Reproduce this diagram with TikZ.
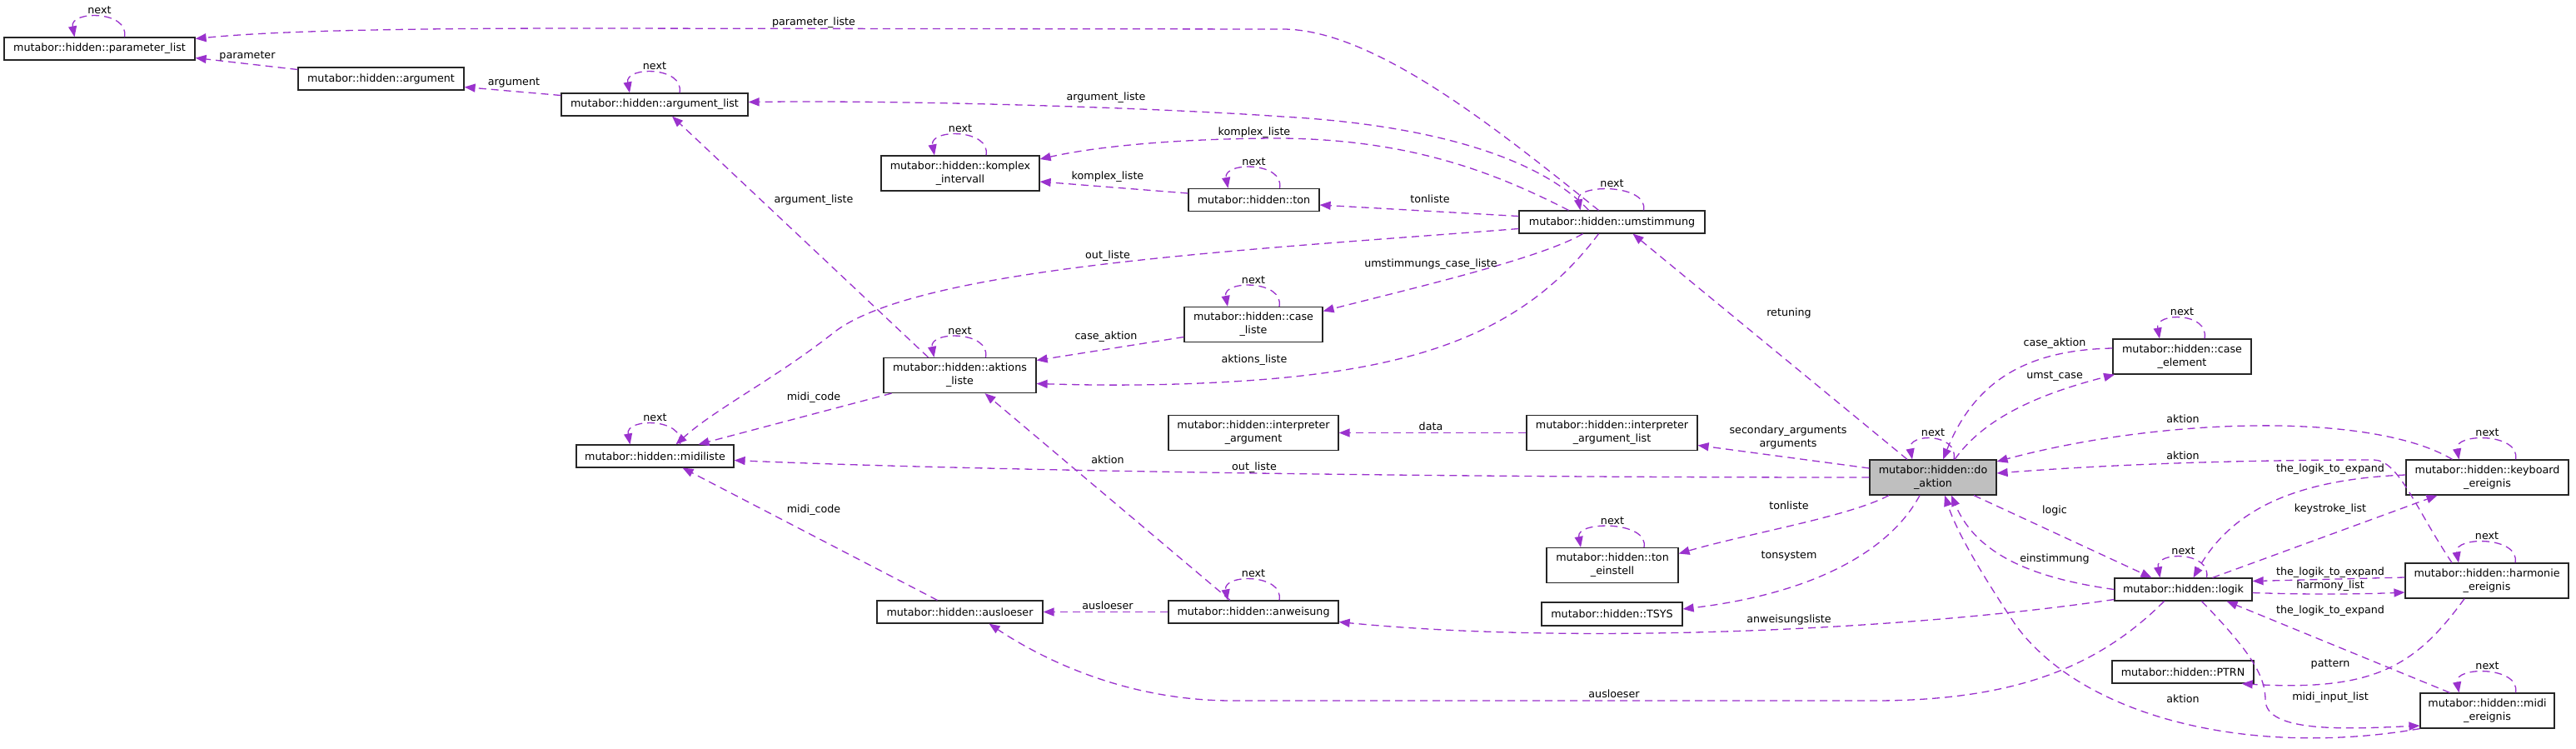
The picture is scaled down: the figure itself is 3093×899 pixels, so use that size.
\documentclass[tikz,border=0pt]{standalone}
\usepackage{fontspec}
\setmainfont{DejaVu Sans}
\usetikzlibrary{arrows.meta,calc}
\definecolor{edgecol}{HTML}{9A32CD}
\newcommand{\nextloop}[2]{%
  \draw[edge] ($(#1.north)+(#2,0)$) .. controls ($(#1.north)+(#2+6,-32)$) and ($(#1.north)+(-#2-6,-32)$) .. ($(#1.north)+(-#2,0)$);
  \node[lbl] at ($(#1.north)+(0,-32)$) {next};}
\begin{document}
\begin{tikzpicture}[x=1pt,y=-1pt,
  box/.style={draw=black!85, line width=1.2pt, fill=white, inner sep=0pt, align=center, font=\fontsize{12.7}{16}\selectfont, minimum height=27pt},
  box2/.style={box, minimum height=42pt},
  focus/.style={box2, fill=gray!50},
  edge/.style={draw=edgecol, line width=1.3pt, dash pattern=on 9pt off 6pt, -{Triangle[length=13pt,width=10pt]}},
  lbl/.style={inner sep=0pt, font=\fontsize{12.7}{16}\selectfont, align=center}]
\useasboundingbox (0,0) rectangle (3093,899);
\fill[white] (0,0) rectangle (3093,899);

% nodes
\node[box, minimum width=229pt] (pl) at (119.5,58.5) {mutabor::hidden::parameter\_list};
\node[box, minimum width=199pt] (arg) at (457.5,94.5) {mutabor::hidden::argument};
\node[box, minimum width=224pt] (al) at (786,125.5) {mutabor::hidden::argument\_list};
\node[box2, minimum width=190pt] (ki) at (1153,208) {mutabor::hidden::komplex\\\_intervall};
\node[box, minimum width=157pt] (ton) at (1505.5,240) {mutabor::hidden::ton};
\node[box2, minimum width=166pt] (cl) at (1505,389.5) {mutabor::hidden::case\\\_liste};
\node[box2, minimum width=183pt] (akl) at (1152.5,450.5) {mutabor::hidden::aktions\\\_liste};
\node[box, minimum width=223pt] (um) at (1935.5,266.5) {mutabor::hidden::umstimmung};
\node[box, minimum width=189pt] (ml) at (786.5,547.5) {mutabor::hidden::midiliste};
\node[box2, minimum width=204pt] (ia) at (1505,519.5) {mutabor::hidden::interpreter\\\_argument};
\node[box2, minimum width=205pt] (ial) at (1935.5,519.5) {mutabor::hidden::interpreter\\\_argument\_list};
\node[focus, minimum width=152pt] (do) at (2321,573) {mutabor::hidden::do\\\_aktion};
\node[box2, minimum width=166pt] (ce) at (2620,428) {mutabor::hidden::case\\\_element};
\node[box2, minimum width=195pt] (kb) at (2986.5,573) {mutabor::hidden::keyboard\\\_ereignis};
\node[box2, minimum width=196pt] (he) at (2986,697) {mutabor::hidden::harmonie\\\_ereignis};
\node[box2, minimum width=161pt] (me) at (2986.5,853) {mutabor::hidden::midi\\\_ereignis};
\node[box, minimum width=165pt] (lg) at (2621.5,707.5) {mutabor::hidden::logik};
\node[box, minimum width=170pt] (pt) at (2621,806.5) {mutabor::hidden::PTRN};
\node[box2, minimum width=158pt] (te) at (1936,678.5) {mutabor::hidden::ton\\\_einstell};
\node[box, minimum width=169pt, minimum height=28pt] (ts) at (1935.5,737) {mutabor::hidden::TSYS};
\node[box, minimum width=204pt] (an) at (1505,734.5) {mutabor::hidden::anweisung};
\node[box, minimum width=199pt] (au) at (1152.5,734.5) {mutabor::hidden::ausloeser};

% self loops
\nextloop{pl}{30}
\nextloop{al}{30}
\nextloop{ki}{31}
\nextloop{ton}{31}
\nextloop{cl}{31}
\nextloop{akl}{31}
\nextloop{ml}{30}
\nextloop{um}{38}
\nextloop{do}{25}
\nextloop{ce}{27}
\nextloop{kb}{34}
\nextloop{he}{34}
\nextloop{me}{34}
\nextloop{lg}{28}
\nextloop{te}{38}
\nextloop{an}{31}

% edges
\draw[edge] ($(um.north)+(-16,0)$) .. controls (1800,157) and (1650,35) .. (1540,35) -- (700,34) .. controls (450,34) and (320,38) .. ($(pl.east)+(0,-12)$);
\draw[edge] ($(um.north)+(-28,0)$) .. controls (1850,190) and (1720,150) .. (1540,140) .. controls (1400,130) and (1100,120) .. ($(al.east)+(0,-3)$);
\draw[edge] ($(um.north)+(-52,0)$) .. controls (1800,210) and (1700,168) .. (1540,166) .. controls (1420,166) and (1320,175) .. ($(ki.east)+(0,-17)$);
\draw[edge] ($(um.west)+(0,-7)$) -- ($(ton.east)+(0,6)$);
\draw[edge] ($(um.west)+(0,8)$) .. controls (1500,300) and (1100,320) .. (1000,400) .. controls (930,455) and (860,490) .. ($(ml.north)+(25,0)$);
\draw[edge] ($(um.south)+(-35,0)$) .. controls (1850,310) and (1700,345) .. ($(cl.east)+(0,-16)$);
\draw[edge] ($(um.south)+(-16,0)$) .. controls (1830,400) and (1700,445) .. (1480,458) .. controls (1380,464) and (1300,462) .. ($(akl.east)+(0,10)$);
\draw[edge] ($(do.north)+(-31,0)$) -- ($(um.south)+(25,0)$);
\draw[edge] ($(cl.west)+(0,15)$) -- ($(akl.east)+(0,-18)$);
\draw[edge] ($(ton.west)+(0,-8)$) -- ($(ki.east)+(0,10)$);
\draw[edge] ($(akl.north)+(-38,0)$) -- ($(al.south)+(21,0)$);
\draw[edge] ($(al.west)+(0,-11)$) -- ($(arg.east)+(0,10)$);
\draw[edge] ($(arg.west)+(0,-11)$) -- ($(pl.east)+(0,11)$);
\draw[edge] ($(akl.south)+(-82,0)$) -- ($(ml.north)+(52,0)$);
\draw[edge] ($(au.north)+(-27,0)$) -- ($(ml.south)+(33,0)$);
\draw[edge] (do.west) .. controls (1600,573) and (1100,562) .. ($(ml.east)+(0,5)$);
\draw[edge] (ial.west) -- (ia.east);
\draw[edge] ($(do.west)+(0,-11)$) -- ($(ial.east)+(0,15)$);
\draw[edge] ($(do.south)+(-53,0)$) .. controls (2220,620) and (2100,640) .. ($(te.east)+(0,-14)$);
\draw[edge] ($(do.south)+(-16,0)$) .. controls (2270,660) and (2180,712) .. ($(ts.east)+(0,-6)$);
\draw[edge] ($(lg.west)+(0,12)$) .. controls (2300,755) and (1900,775) .. ($(an.east)+(0,12)$);
\draw[edge] ($(lg.south)+(-23,0)$) .. controls (2520,800) and (2420,841) .. (2250,841) -- (1480,841) .. controls (1350,841) and (1250,790) .. ($(au.south)+(35,0)$);
\draw[edge] (an.west) -- (au.east);
\draw[edge] ($(an.north)+(-28,0)$) -- ($(akl.south)+(30,0)$);
\draw[edge] ($(do.north)+(26,0)$) .. controls (2380,505) and (2440,475) .. ($(ce.south)+(-81,0)$);
\draw[edge] ($(ce.west)+(0,-10)$) .. controls (2430,420) and (2370,460) .. ($(do.north)+(12,0)$);
\draw[edge] ($(kb.north)+(-42,0)$) .. controls (2850,495) and (2600,500) .. ($(do.east)+(0,-19)$);
\draw[edge] ($(he.north)+(-42,0)$) .. controls (2900,610) and (2880,552) .. (2850,552) .. controls (2650,552) and (2500,560) .. ($(do.east)+(0,-5)$);
\draw[edge] ($(kb.west)+(0,-3)$) .. controls (2760,575) and (2680,610) .. ($(lg.north)+(12,0)$);
\draw[edge] ($(lg.north)+(35,0)$) -- ($(kb.south)+(-60,0)$);
\draw[edge] ($(do.south)+(49,0)$) -- ($(lg.north)+(-38,0)$);
\draw[edge] (lg.west) .. controls (2450,695) and (2375,670) .. ($(do.south)+(22,0)$);
\draw[edge] (me.south west) .. controls (2700,910) and (2500,860) .. (2420,750) .. controls (2380,690) and (2350,640) .. ($(do.south)+(14,0)$);
\draw[edge] ($(he.west)+(0,-4)$) -- ($(lg.east)+(0,-10)$);
\draw[edge] ($(lg.east)+(0,4)$) .. controls (2780,714) and (2840,713) .. ($(he.west)+(0,14)$);
\draw[edge] ($(me.north)+(-45,0)$) -- ($(lg.south)+(52,0)$);
\draw[edge] ($(he.south)+(-27,0)$) .. controls (2900,800) and (2850,830) .. ($(pt.south east)+(-15,0)$);
\draw[edge] ($(lg.south)+(22,0)$) .. controls (2700,780) and (2720,810) .. (2720,840) .. controls (2720,880) and (2820,875) .. ($(me.west)+(0,18)$);

% labels
\node[lbl] at (297,67) {parameter};
\node[lbl] at (977,27) {parameter\_liste};
\node[lbl] at (617,99) {argument};
\node[lbl] at (1328,117) {argument\_liste};
\node[lbl] at (1506,159) {komplex\_liste};
\node[lbl] at (1330,212) {komplex\_liste};
\node[lbl] at (977,240) {argument\_liste};
\node[lbl] at (1717,239) {tonliste};
\node[lbl] at (1330,307) {out\_liste};
\node[lbl] at (1718,317) {umstimmungs\_case\_liste};
\node[lbl] at (2148,376) {retuning};
\node[lbl] at (1328,404) {case\_aktion};
\node[lbl] at (1506,432) {aktions\_liste};
\node[lbl] at (2467,412) {case\_aktion};
\node[lbl] at (2467,452) {umst\_case};
\node[lbl] at (977,477) {midi\_code};
\node[lbl] at (2621,503) {aktion};
\node[lbl] at (1718,512) {data};
\node[lbl] at (2147,525) {secondary\_arguments\\arguments};
\node[lbl] at (2621,547) {aktion};
\node[lbl] at (1330,552) {aktion};
\node[lbl] at (1506,561) {out\_liste};
\node[lbl] at (2798,563) {the\_logik\_to\_expand};
\node[lbl] at (2148,607) {tonliste};
\node[lbl] at (2798,611) {keystroke\_list};
\node[lbl] at (977,612) {midi\_code};
\node[lbl] at (2467,613) {logic};
\node[lbl] at (2148,667) {tonsystem};
\node[lbl] at (2467,671) {einstimmung};
\node[lbl] at (2798,687) {the\_logik\_to\_expand};
\node[lbl] at (2798,703) {harmony\_list};
\node[lbl] at (1330,727) {ausloeser};
\node[lbl] at (2798,733) {the\_logik\_to\_expand};
\node[lbl] at (2148,744) {anweisungsliste};
\node[lbl] at (2798,797) {pattern};
\node[lbl] at (1938,833) {ausloeser};
\node[lbl] at (2798,837) {midi\_input\_list};
\node[lbl] at (2621,839) {aktion};
\end{tikzpicture}
\end{document}
